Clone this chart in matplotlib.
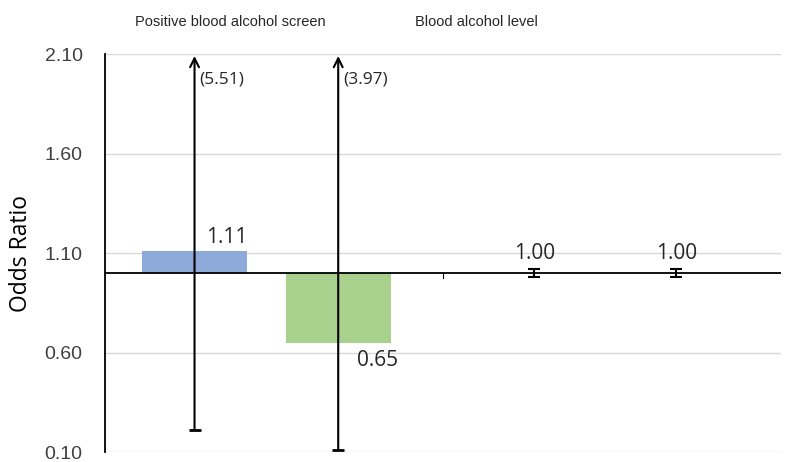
import matplotlib
matplotlib.use("Agg")
import matplotlib.pyplot as plt

# Odds ratios with 95% confidence limits
groups = ["Positive blood alcohol screen", "Blood alcohol level"]
odds_ratio = [1.11, 0.65, 1.00, 1.00]
ci_lower = [0.21, 0.11, 0.98, 0.98]
ci_upper = [5.51, 3.97, 1.02, 1.02]
bar_colors = ["#8eaadb", "#a9d18e", "#8eaadb", "#a9d18e"]
yticks = [0.10, 0.60, 1.10, 1.60, 2.10]

# bar centres within each unit-wide group
positions = [0.265, 0.69, 1.27, 1.69]
bar_width = 0.31
ymin, ymax = 0.10, 2.10
ref = 1.0

fig = plt.figure(figsize=(7.89, 4.62), dpi=100)
ax = fig.add_axes([0.133, 0.0216, 0.857, 0.8615])
ax.set_xlim(0, 2)
ax.set_ylim(ymin, ymax)

# bars grow from the reference line at OR = 1
heights = [v - ref for v in odds_ratio]
ax.bar(positions, heights, bottom=ref, width=bar_width, color=bar_colors,
       zorder=2)

for x, v, lo, hi in zip(positions, odds_ratio, ci_lower, ci_upper):
    if hi > ymax:
        # interval runs off the top: arrow up, cap at the bottom
        ax.annotate("", xy=(x, ymax - 0.01), xytext=(x, lo),
                    arrowprops=dict(arrowstyle="->", lw=1.5, color="black",
                                    mutation_scale=16, shrinkA=0, shrinkB=0),
                    zorder=4)
        ax.plot([x], [lo], marker="_", markersize=9, mew=2, color="black",
                zorder=4)
        ax.text(x + 0.015, ymax - 0.13, f"({hi:.2f})", ha="left",
                va="center", fontsize=12.5, family="Open Sans",
                color="#262626")
    else:
        ax.errorbar([x], [v], yerr=[[v - lo], [hi - v]], fmt="none",
                    ecolor="black", elinewidth=1.5, capsize=4,
                    capthick=1.5, zorder=4)

# value labels
ax.text(positions[0] + 0.095, 1.18, f"{odds_ratio[0]:.2f}", ha="center",
        va="center", fontsize=15, family="Open Sans", color="#262626")
ax.text(positions[1] + 0.115, 0.56, f"{odds_ratio[1]:.2f}", ha="center",
        va="center", fontsize=15, family="Open Sans", color="#262626")
for x, v in zip(positions[2:], odds_ratio[2:]):
    ax.text(x, 1.10, f"{v:.2f}", ha="center", va="center", fontsize=15,
            family="Open Sans", color="#262626")

# reference line acting as the category axis
ax.axhline(ref, color="black", lw=1.3, zorder=3)
ax.plot([1, 1], [ref, ref - 0.025], color="black", lw=0.8, zorder=3)

ax.set_yticks(yticks)
ax.set_yticklabels([f"{t:.2f}" for t in yticks], family="Liberation Sans",
                   fontsize=14, color="#404040")
ax.tick_params(axis="y", length=0, pad=16)
ax.set_xticks([])
ax.yaxis.grid(True, color="#d9d9d9", lw=1)
ax.set_axisbelow(True)
for side in ["top", "right", "bottom"]:
    ax.spines[side].set_visible(False)
ax.spines["left"].set_linewidth(1.3)
ax.spines["left"].set_color("black")

ax.set_ylabel("Odds Ratio", family="Open Sans", fontsize=16.5, color="black")
ax.yaxis.set_label_coords(-0.107, 0.5)

fig.text(230 / 789, 1 - 22 / 462, groups[0], ha="center", va="center",
         fontsize=10.5, family="Liberation Sans", color="#262626")
fig.text(476 / 789, 1 - 22 / 462, groups[1], ha="center", va="center",
         fontsize=10.5, family="Liberation Sans", color="#262626")

fig.savefig("out.png", dpi=100)
